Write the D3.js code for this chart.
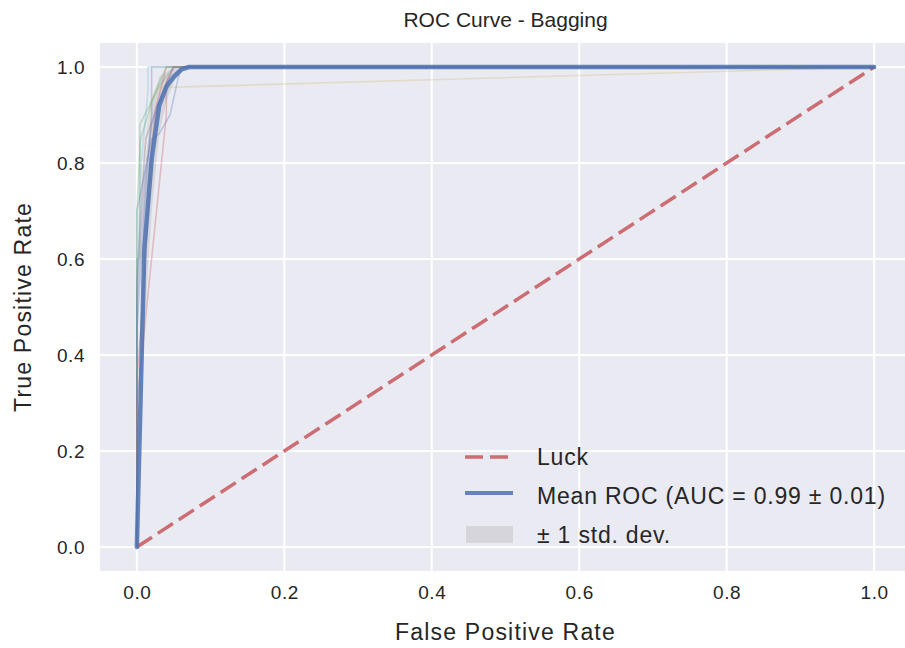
<!DOCTYPE html>
<html>
<head>
<meta charset="utf-8">
<script src="https://cdn.jsdelivr.net/npm/d3@7"></script>
<style>
  body { margin: 0; background: #fff; }
  svg text { font-family: "Liberation Sans", Arial, sans-serif; fill: #262626; }
</style>
</head>
<body>
<div id="chart"></div>
<script>
// Tick labels
const xTicks = [0, 0.2, 0.4, 0.6, 0.8, 1.0];
const yTicks = [0, 0.2, 0.4, 0.6, 0.8, 1.0];

// Per-fold ROC curves (fpr, tpr corner points)
const foldFpr = [
  [0, 0, 0.010, 0.020, 0.020, 1],
  [0, 0, 0.004, 0.004, 0.030, 0.050, 1],
  [0, 0, 0.008, 0.015, 0.020, 0.025, 0.040, 1],
  [0, 0, 0.010, 0.020, 0.035, 0.050, 1],
  [0, 0, 0.010, 0.020, 0.030, 1],
  [0, 0, 0.006, 0.015, 0.015, 1],
  [0, 0, 0.020, 0.030, 0.045, 0.055, 0.060, 1],
  [0, 0, 0.005, 0.025, 0.040, 1],
  [0, 0, 0.020, 0.040, 0.040, 0.050, 1],
  [0, 0, 0.012, 0.028, 0.045, 0.065, 1]
];
const foldTpr = [
  [0, 0.45, 0.70, 0.90, 1.00, 1],
  [0, 0.60, 0.60, 0.88, 0.96, 1.00, 1],
  [0, 0.35, 0.50, 0.70, 0.83, 0.91, 1.00, 1],
  [0, 0.50, 0.75, 0.88, 0.95, 1.00, 1],
  [0, 0.55, 0.82, 0.93, 0.957, 1],
  [0, 0.50, 0.80, 0.95, 1.00, 1],
  [0, 0.70, 0.85, 0.86, 0.90, 0.97, 1.00, 1],
  [0, 0.70, 0.85, 0.95, 1.00, 1],
  [0, 0.30, 0.60, 0.90, 0.97, 1.00, 1],
  [0, 0.55, 0.85, 0.92, 0.98, 1.00, 1]
];
const foldColors = ['#4C72B0', '#55A868', '#C44E52', '#8172B2', '#CCB974',
                    '#64B5CD', '#4C72B0', '#55A868', '#C44E52', '#8172B2'];

// Mean ROC and +/- 1 std band
const meanFpr  = [0, 0.0101, 0.0202, 0.0303, 0.0404, 0.0505, 0.0606, 0.0707, 1.0];
const meanTpr  = [0, 0.62, 0.81, 0.92, 0.96, 0.98, 0.995, 1.0, 1.0];
const tprLower = [0, 0.45, 0.70, 0.86, 0.93, 0.97, 0.99, 1.0, 1.0];
const tprUpper = [0, 0.78, 0.92, 0.98, 0.99, 1.0, 1.0, 1.0, 1.0];

// Chance line
const luckX = [0, 1];
const luckY = [0, 1];

const W = 905, H = 648;
const plot = { left: 100, right: 911, top: 43, bottom: 571 };

const svg = d3.select('#chart').append('svg')
  .attr('width', W).attr('height', H);

const x = d3.scaleLinear().domain([-0.05, 1.05]).range([plot.left, plot.right]);
const y = d3.scaleLinear().domain([-0.05, 1.05]).range([plot.bottom, plot.top]);

svg.append('defs').append('clipPath').attr('id', 'clip')
  .append('rect')
  .attr('x', plot.left).attr('y', plot.top)
  .attr('width', plot.right - plot.left).attr('height', plot.bottom - plot.top);

// background
svg.append('rect')
  .attr('x', plot.left).attr('y', plot.top)
  .attr('width', plot.right - plot.left).attr('height', plot.bottom - plot.top)
  .attr('fill', '#EAEAF2');

// grid
const grid = svg.append('g');
grid.selectAll('.gx').data(xTicks).enter().append('line')
  .attr('x1', d => x(d)).attr('x2', d => x(d))
  .attr('y1', plot.top).attr('y2', plot.bottom)
  .attr('stroke', '#fff').attr('stroke-width', 2);
grid.selectAll('.gy').data(yTicks).enter().append('line')
  .attr('y1', d => y(d)).attr('y2', d => y(d))
  .attr('x1', plot.left).attr('x2', plot.right)
  .attr('stroke', '#fff').attr('stroke-width', 2);

// axes (tick labels only, seaborn style)
const xAxis = svg.append('g')
  .attr('transform', `translate(0,${plot.bottom + 9})`)
  .call(d3.axisBottom(x).tickValues(xTicks).tickFormat(d3.format('.1f')).tickSize(0));
const yAxis = svg.append('g')
  .attr('transform', `translate(${plot.left - 9},0)`)
  .call(d3.axisLeft(y).tickValues(yTicks).tickFormat(d3.format('.1f')).tickSize(0));
[xAxis, yAxis].forEach(a => {
  a.select('.domain').remove();
  a.selectAll('text')
    .style('font-family', '"Liberation Sans", Arial, sans-serif')
    .style('font-size', '19px')
    .style('letter-spacing', '0.6px')
    .attr('fill', '#262626');
});
xAxis.selectAll('text').attr('dy', '0.85em');
yAxis.selectAll('text').attr('dx', '-0.15em');

const plotArea = svg.append('g').attr('clip-path', 'url(#clip)');

// std band
const band = meanFpr.map((f, i) => ({ f, lo: tprLower[i], hi: tprUpper[i] }));
plotArea.append('path')
  .datum(band)
  .attr('d', d3.area().x(d => x(d.f)).y0(d => y(d.lo)).y1(d => y(d.hi)))
  .attr('fill', 'grey').attr('fill-opacity', 0.2);

// folds
const line = d3.line().x(d => x(d[0])).y(d => y(d[1]));
foldFpr.forEach((fpr, i) => {
  const pts = fpr.map((f, j) => [f, foldTpr[i][j]]);
  plotArea.append('path')
    .datum(pts)
    .attr('d', line)
    .attr('fill', 'none')
    .attr('stroke', foldColors[i])
    .attr('stroke-width', 1.6)
    .attr('stroke-opacity', 0.3);
});

// luck
plotArea.append('path')
  .datum(luckX.map((v, i) => [v, luckY[i]]))
  .attr('d', line)
  .attr('fill', 'none')
  .attr('stroke', '#C44E52').attr('stroke-opacity', 0.8)
  .attr('stroke-width', 3.5)
  .attr('stroke-dasharray', '18,7');

// mean ROC
plotArea.append('path')
  .datum(meanFpr.map((f, i) => [f, meanTpr[i]]))
  .attr('d', line)
  .attr('fill', 'none')
  .attr('stroke', '#4C72B0').attr('stroke-opacity', 0.85)
  .attr('stroke-width', 4.5)
  .attr('stroke-linejoin', 'round')
  .attr('stroke-linecap', 'round');

// legend
const legendItems = [
  { label: 'Luck', type: 'dash' },
  { label: 'Mean ROC (AUC = 0.99 \u00b1 0.01)', type: 'line' },
  { label: '\u00b1 1 std. dev.', type: 'patch' }
];
const legend = svg.append('g').attr('transform', 'translate(465,457)');
legendItems.forEach((it, i) => {
  const g = legend.append('g').attr('transform', `translate(0,${i * 39})`);
  if (it.type === 'dash') {
    g.append('line').attr('x1', 0).attr('x2', 48).attr('y1', 0).attr('y2', 0)
      .attr('stroke', '#C44E52').attr('stroke-opacity', 0.8)
      .attr('stroke-width', 3.5).attr('stroke-dasharray', '18,7');
  } else if (it.type === 'line') {
    g.append('line').attr('x1', 0).attr('x2', 48).attr('y1', -3).attr('y2', -3)
      .attr('stroke', '#4C72B0').attr('stroke-opacity', 0.85)
      .attr('stroke-width', 4);
  } else {
    g.append('rect').attr('x', 1).attr('y', -9).attr('width', 47).attr('height', 17)
      .attr('fill', 'grey').attr('fill-opacity', 0.2);
  }
  g.append('text')
    .attr('x', 72).attr('y', 0).attr('dy', '0.35em')
    .style('font-size', '23px').style('letter-spacing', '0.8px')
    .text(it.label);
});

// title and axis labels
svg.append('text')
  .attr('x', (plot.left + plot.right) / 2).attr('y', 27)
  .attr('text-anchor', 'middle')
  .style('font-size', '21px')
  .text('ROC Curve - Bagging');
svg.append('text')
  .attr('x', (plot.left + plot.right) / 2).attr('y', 640)
  .attr('text-anchor', 'middle')
  .style('font-size', '23px').style('letter-spacing', '1.2px')
  .text('False Positive Rate');
svg.append('text')
  .attr('transform', `translate(31,${(plot.top + plot.bottom) / 2}) rotate(-90)`)
  .attr('text-anchor', 'middle')
  .style('font-size', '23px').style('letter-spacing', '1.2px')
  .text('True Positive Rate');
</script>
</body>
</html>
